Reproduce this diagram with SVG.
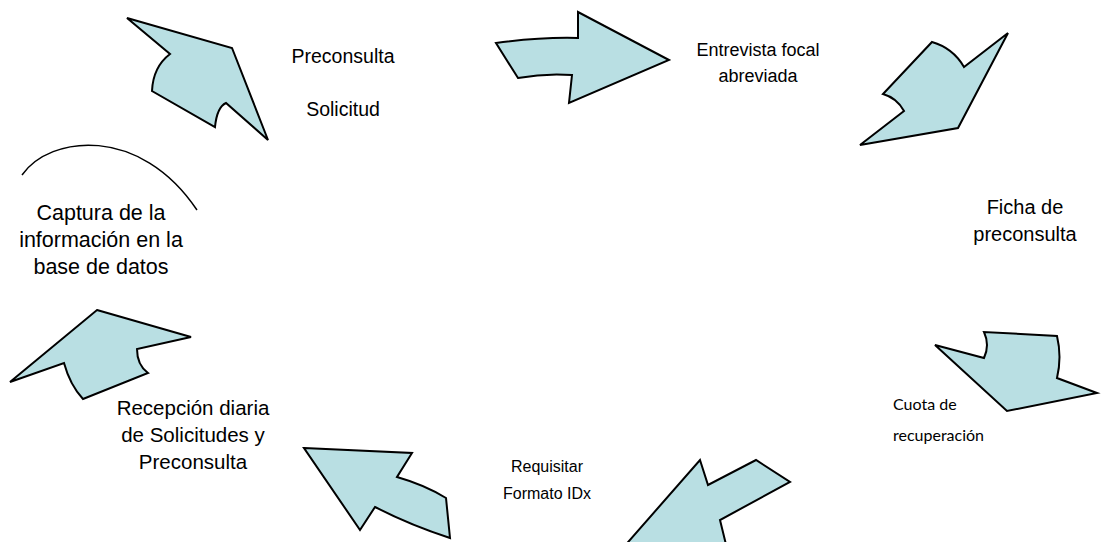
<svg xmlns="http://www.w3.org/2000/svg" width="1101" height="542" viewBox="0 0 1101 542">
<style>
.arrow{fill:#b9dfe3;stroke:#000;stroke-width:2;stroke-linejoin:miter}
.t{font-family:"Liberation Sans",Arial,sans-serif;font-size:18px;fill:#000;text-anchor:middle}
.c{font-family:Lato,"Open Sans",sans-serif;font-size:16px;fill:#000;text-anchor:start}
</style>
<rect width="1101" height="542" fill="#fff"/>
<g id="connectors">
<path id="arrow1" class="arrow" d="M127,18 L232,48 L268,140 L226,103 Q217,107 215,127 L152,91 Q153,67 170,54 Z"/>
<path id="arrow2" class="arrow" d="M496,43 Q540,37 578,38 L578,12 L669,60 L569,103 L572,75 Q545,73 518,78 Z"/>
<path id="arrow3" class="arrow" d="M932,42 Q953,48 964,67 L1008,33 L958,128 L860,145 L904,111 Q897,98 883,94 Z"/>
<path id="arrow4" class="arrow" d="M935,345 L984,358 Q990,345 984,332 L1057,336 Q1062,357 1057,378 L1097,393 L1007,411 Z"/>
<path id="arrow5" class="arrow" d="M700,460 L708,485 L756,460 L790,482 L720,520 L731,565 L608,565 Z"/>
<path id="arrow6" class="arrow" d="M304,448 L412,453 L397,477 Q425,485 446,498 L450,538 Q410,525 375,507 L360,530 Z"/>
<path id="arrow7" class="arrow" d="M97,310 L191,337 L137,349 Q137,365 148,373 L83,399 Q70,385 64,363 L10,382 Z"/>
<path id="arc" d="M22,175 C50,135 140,125 197,210" fill="none" stroke="#000" stroke-width="1.5"/>
</g>
<g id="n-preconsulta"><text class="t" x="343" y="63" style="font-size:19.5px">Preconsulta</text><text class="t" x="343" y="116" style="font-size:19.5px">Solicitud</text></g>
<g id="n-entrevista"><text class="t" x="758" y="56">Entrevista focal</text><text class="t" x="758" y="82">abreviada</text></g>
<g id="n-ficha"><text class="t" x="1025" y="214" style="font-size:20px">Ficha de</text><text class="t" x="1025" y="241" style="font-size:20px">preconsulta</text></g>
<g id="n-cuota"><text class="c" x="893" y="410">Cuota de</text><text class="c" x="893" y="441">recuperación</text></g>
<g id="n-requisitar"><text class="t" x="547" y="472" style="font-size:16px">Requisitar</text><text class="t" x="547" y="499" style="font-size:16px">Formato IDx</text></g>
<g id="n-recepcion"><text class="t" x="193" y="415" style="font-size:20.5px">Recepción diaria</text><text class="t" x="193" y="442" style="font-size:20.5px">de Solicitudes y</text><text class="t" x="193" y="469" style="font-size:20.5px">Preconsulta</text></g>
<g id="n-captura"><text class="t" x="101" y="220" style="font-size:21.5px">Captura de la</text><text class="t" x="101" y="247" style="font-size:21.5px">información en la</text><text class="t" x="101" y="274" style="font-size:21.5px">base de datos</text></g>
</svg>
